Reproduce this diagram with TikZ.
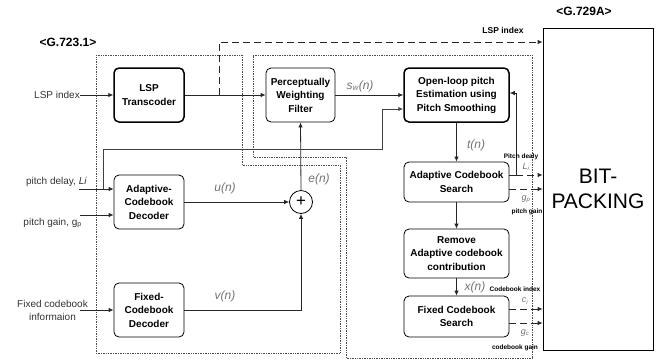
\documentclass[tikz,border=0pt]{standalone}
\usepackage{fontspec}
\setmainfont{Liberation Sans}
\usetikzlibrary{arrows.meta}

\begin{document}
\begin{tikzpicture}[x=1pt,y=-1pt,
    box/.style={draw,rounded corners=5pt,align=center,inner sep=0pt,line width=0.8pt,
      font=\fontsize{10}{13.5}\selectfont\bfseries},
    thickbox/.style={box,line width=1.5pt},
    sig/.style={font=\fontsize{12}{14}\selectfont\itshape,text=black!55,inner sep=0pt},
    tiny/.style={font=\fontsize{6.5}{7}\selectfont\bfseries,inner sep=0pt},
    inp/.style={font=\fontsize{10}{13}\selectfont,text=black!80,inner sep=0pt,align=center},
    arr/.style={-{Latex[length=5pt,width=4.5pt]},line width=0.8pt,black!85},
    dsh/.style={dash pattern=on 7pt off 4pt},
    area/.style={densely dotted,line width=0.7pt,black!70}]
  \useasboundingbox (0,0) rectangle (669,360);

  % coder regions
  \draw[area] (96,55) -- (242,55) -- (242,165) -- (340,165) -- (340,353) -- (96,353) -- cycle;
  \draw[area] (253,55) -- (532,55) -- (532,358) -- (346,358) -- (346,157) -- (253,157) -- cycle;
  \node[font=\fontsize{12}{14}\selectfont\bfseries] (g723) at (68,42) {<G.723.1>};
  \node[font=\fontsize{12}{14}\selectfont\bfseries] (g729) at (584,11) {<G.729A>};

  % blocks
  \node[thickbox,minimum width=70pt,minimum height=54pt] (lsp) at (149,95) {LSP\\Transcoder};
  \node[box,minimum width=69pt,minimum height=54pt] (pwf) at (300.5,95) {Perceptually\\Weighting\\Filter};
  \node[thickbox,minimum width=105pt,minimum height=54pt] (olp) at (456.5,95) {Open-loop pitch\\Estimation using\\Pitch Smoothing};
  \node[box,minimum width=70pt,minimum height=54pt] (acd) at (149,202) {Adaptive-\\Codebook\\Decoder};
  \node[box,minimum width=70pt,minimum height=54pt] (fcd) at (149,310) {Fixed-\\Codebook\\Decoder};
  \node[draw,circle,line width=0.8pt,minimum size=23pt,inner sep=0pt,font=\fontsize{17}{17}\selectfont] (sum) at (301,202) {+};
  \node[box,minimum width=105pt,minimum height=40pt] (acs) at (456.5,182) {Adaptive Codebook\\Search};
  \node[box,minimum width=105pt,minimum height=49pt] (rac) at (456.5,253.5) {Remove\\Adaptive codebook\\contribution};
  \node[box,minimum width=105pt,minimum height=41pt] (fcs) at (456.5,316.5) {Fixed Codebook\\Search};
  \node[draw,line width=0.8pt,minimum width=110pt,minimum height=322pt,inner sep=0pt,align=center,
    font=\fontsize{21}{25}\selectfont] (bit) at (598,189) {BIT-\\PACKING};

  % decoder inputs
  \node[inp,anchor=east] (lspin) at (80,95) {LSP index};
  \node[inp,anchor=east] (pdin) at (87,182) {pitch delay, \textit{Li}};
  \node[inp,anchor=east] (pgin) at (82,223) {pitch gain, g\textsubscript{p}};
  \node[inp,anchor=east] (fcin) at (88,310) {Fixed codebook\\informaion};
  \coordinate (pd) at (79,189);
  \coordinate (pdtap) at (103,189);
  \coordinate (pg) at (80,215);
  \coordinate (fc) at (80,310);
  \coordinate (tap) at (219,95);

  \draw[arr] (lspin.east) -- (lsp.west);
  \draw[arr] (pd) -- (acd.west |- pd);
  \draw[arr] (pg) -- (acd.west |- pg);
  \draw[arr] (fc) -- (fcd.west);
  \draw[arr] (lsp.east) -- (pwf.west);
  \draw[arr] (acd.east) -- (sum.west);
  \draw[arr] (fcd.east) -| (sum.south);
  \draw[arr] (sum.north) -- (pwf.south);
  \draw[arr,black!75,line width=1pt] (pdtap) |- (382,149) |- (olp.west |- 0,109);

  \node[sig] (un) at (225,188) {u(n)};
  \node[sig] (vn) at (225,296) {v(n)};
  \node[sig] (en) at (319,179) {e(n)};

  % LSP index straight to packing
  \draw[arr,dsh] (tap) |- (bit.west |- 0,42);
  \node[tiny,font=\fontsize{8.5}{10}\selectfont\bfseries] (lspidx) at (503,30) {LSP index};

  % encoder chain
  \draw[arr] (pwf.east) -- (olp.west);
  \node[sig] (swn) at (360,86) {s\textsubscript{w}(n)};
  \draw[arr] (olp.south) -- (acs.north);
  \node[sig] (tn) at (476,145) {t(n)};
  \draw[arr] (acs.south) -- (rac.north);
  \draw[arr] (rac.south) -- (fcs.north);
  \node[sig] (xn) at (475,287) {x(n)};

  % pitch delay feedback and parameters
  \coordinate (li) at (516,175);
  \draw[line width=0.8pt,black!85] (acs.east |- li) -- (li);
  \draw[arr] (li) |- (olp.east |- 0,93);
  \draw[arr,dsh] (li) -- (bit.west |- li);
  \draw[arr,dsh] (acs.east |- 0,189) -- (bit.west |- 0,189);
  \draw[arr,dsh] (fcs.east |- 0,309) -- (bit.west |- 0,309);
  \draw[arr,dsh] (fcs.east |- 0,323) -- (bit.west |- 0,323);

  \node[tiny] (pdl) at (521,157) {Pitch dealy};
  \node[sig,font=\fontsize{9}{10}\selectfont\itshape] (lil) at (526,167) {L\textsubscript{i}};
  \node[sig,font=\fontsize{9}{10}\selectfont\itshape] (gpl) at (526,199) {g\textsubscript{p}};
  \node[tiny] (pgl) at (527,212) {pitch gain};
  \node[tiny] (cil) at (515,289) {Codebook index};
  \node[sig,font=\fontsize{9}{10}\selectfont\itshape] (cl) at (525,301) {c\textsubscript{i}};
  \node[sig,font=\fontsize{9}{10}\selectfont\itshape] (gcl) at (525,333) {g\textsubscript{c}};
  \node[tiny] (cgl) at (515,348) {codebook gain};
\end{tikzpicture}
\end{document}
